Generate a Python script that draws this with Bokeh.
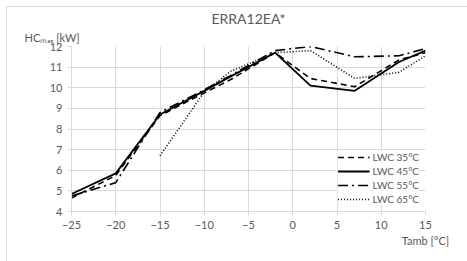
import numpy as np
from bokeh.plotting import figure
from bokeh.models import Legend, LegendItem, FixedTicker, Range1d, Title
from bokeh.embed import file_html
from bokeh.resources import INLINE

tamb = [-25, -20, -15, -10, -7, -2, 2, 7, 12, 15]
lwc35 = [4.65, 5.75, 8.65, 9.75, 10.4, 11.7, 10.45, 10.05, 11.35, 11.7]
lwc45 = [4.85, 5.85, 8.7, 9.85, 10.55, 11.7, 10.1, 9.85, 11.25, 11.8]
lwc55 = [4.75, 5.4, 8.8, 9.9, 10.6, 11.8, 12.0, 11.5, 11.55, 11.9]
lwc65 = [np.nan, np.nan, 6.7, 9.8, 10.8, 11.7, 11.8, 10.45, 10.75, 11.55]
series_names = ["LWC 35°C", "LWC 45°C", "LWC 55°C", "LWC 65°C"]
x_ticks = [-25, -20, -15, -10, -5, 0, 5, 10, 15]
y_ticks = [4, 5, 6, 7, 8, 9, 10, 11, 12]

FONT = "Lato"
GREY = "#595959"
GRID = "#d9d9d9"

W, H = 470, 256
p = figure(width=W, height=H, output_backend="svg", toolbar_location=None,
           x_range=Range1d(-25, 15), y_range=Range1d(4, 12),
           min_border_left=64, min_border_right=52, min_border_top=39, min_border_bottom=52)
p.outline_line_color = None
p.title = None
p.styles = {"border": "1px solid #d9d9d9", "margin-left": "6px", "margin-top": "6px"}

for ax in (p.xaxis[0], p.yaxis[0]):
    ax.axis_line_color = GRID
    ax.major_tick_line_color = GRID
    ax.minor_tick_line_color = None
    ax.major_tick_out = 4
    ax.major_tick_in = 0
    ax.major_label_text_font = FONT
    ax.major_label_text_font_size = "11px"
    ax.major_label_text_color = GREY
p.xaxis.ticker = FixedTicker(ticks=x_ticks)
p.yaxis.ticker = FixedTicker(ticks=y_ticks)
p.xaxis.major_label_standoff = 5
p.yaxis.major_label_standoff = 5
p.xgrid.grid_line_color = GRID
p.ygrid.grid_line_color = GRID
p.xgrid.ticker = FixedTicker(ticks=x_ticks)
p.ygrid.ticker = FixedTicker(ticks=y_ticks)

# x-axis caption
xa = p.xaxis[0]
xa.axis_label = "Tamb [°C]"
xa.axis_label_text_font = FONT
xa.axis_label_text_font_size = "11px"
xa.axis_label_text_font_style = "normal"
xa.axis_label_text_color = GREY
xa.axis_label_standoff = 2
if "axis_label_align" in xa.properties():
    for v in ("end", "right"):
        try:
            xa.axis_label_align = v
            break
        except Exception:
            pass

r35 = p.line(tamb, lwc35, line_color="black", line_width=1.6, line_dash="6 4")
r45 = p.line(tamb, lwc45, line_color="black", line_width=1.8)
r55 = p.line(tamb, lwc55, line_color="black", line_width=1.6, line_dash="10 4 2 4")
r65 = p.line(tamb, lwc65, line_color="black", line_width=1.6, line_dash="1 2")

# y-axis caption (nearest the frame) and chart title, stacked in the top panel
hc = Title(text="HCₘₐₓ [kW]", align="left", offset=-47, standoff=5,
           text_font=FONT, text_font_size="11px", text_font_style="normal", text_color=GREY)
p.add_layout(hc, "above")
main = Title(text="ERRA12EA*", align="center", standoff=0,
             text_font=FONT, text_font_size="14px", text_font_style="normal", text_color=GREY)
p.add_layout(main, "above")

legend = Legend(items=[LegendItem(label=n, renderers=[r]) for n, r in zip(series_names, [r35, r45, r55, r65])],
                orientation="vertical", location="bottom_right",
                label_text_font=FONT, label_text_font_size="10px", label_text_color=GREY,
                glyph_width=32, glyph_height=10, label_height=10, spacing=2,
                padding=4, margin=6, label_standoff=3, border_line_color=None,
                background_fill_color="white", background_fill_alpha=0.9)
p.add_layout(legend)

open("out.html", "w").write(file_html(p, INLINE))
